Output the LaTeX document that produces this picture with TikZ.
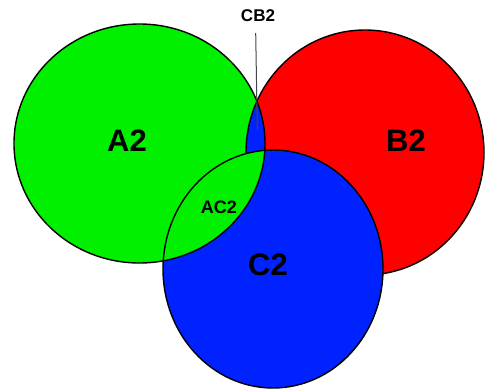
\documentclass[tikz,border=0pt]{standalone}
\usepackage{fontspec}
\setmainfont{Liberation Sans}
\definecolor{vgreen}{RGB}{0,240,0}
\definecolor{vred}{RGB}{255,0,0}
\definecolor{vblue}{RGB}{0,34,255}
\definecolor{leader}{RGB}{70,70,70}
\begin{document}
\begin{tikzpicture}[x=1pt,y=-1pt,
  outl/.style={draw=black,line width=1.4pt},
  big/.style={font=\bfseries\fontsize{31}{31}\selectfont},
  small/.style={font=\bfseries\fontsize{18}{18}\selectfont}]
\useasboundingbox (0,0) rectangle (485,389);
% B (red)
\fill[vred] (365,152.5) ellipse [x radius=119pt, y radius=122.5pt];
\draw[outl] (365,152.5) ellipse [x radius=119pt, y radius=122.5pt];
% A (green)
\fill[vgreen] (139.5,143.5) ellipse [x radius=125.5pt, y radius=119.5pt];
% A and B overlap: blue
\begin{scope}
  \clip (139.5,143.5) ellipse [x radius=125.5pt, y radius=119.5pt];
  \fill[vblue] (365,152.5) ellipse [x radius=119pt, y radius=122.5pt];
  \draw[outl] (365,152.5) ellipse [x radius=119pt, y radius=122.5pt];
\end{scope}
% C (blue)
\fill[vblue] (273,269) ellipse [x radius=110pt, y radius=119pt];
% A and C overlap: green
\begin{scope}
  \clip (273,269) ellipse [x radius=110pt, y radius=119pt];
  \fill[vgreen] (139.5,143.5) ellipse [x radius=125.5pt, y radius=119.5pt];
\end{scope}
% outlines
\draw[outl] (139.5,143.5) ellipse [x radius=125.5pt, y radius=119.5pt];
\draw[outl] (273,269) ellipse [x radius=110pt, y radius=119pt];
% labels
\node[big] (a2) at (127,141) {A2};
\node[big] (b2) at (406,141) {B2};
\node[big] (c2) at (268,265) {C2};
\node[small] (ac2) at (219,207) {AC2};
\node[small,font=\bfseries\fontsize{17}{17}\selectfont] (cb2) at (258,16) {CB2};
\coordinate (cbtop) at (255.7,33);
\coordinate (cbend) at (257.3,130);
\draw[leader,line width=1pt] (cbtop) -- (cbend);
\end{tikzpicture}
\end{document}
